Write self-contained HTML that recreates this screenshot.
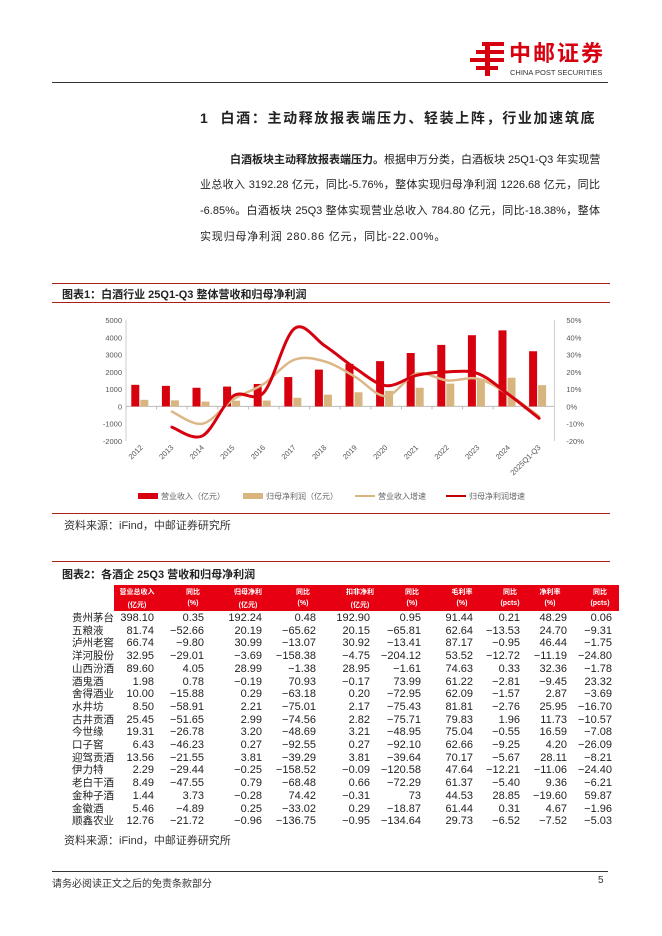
<!DOCTYPE html>
<html><head><meta charset="utf-8">
<style>
body{margin:0;background:#fff;}
#page{position:relative;width:662px;height:936px;overflow:hidden;font-family:"Liberation Sans","Noto Sans CJK SC",sans-serif;color:#222;}
.abs{position:absolute;white-space:nowrap;}
.p{position:absolute;left:200px;width:400px;font-size:11px;height:16px;line-height:16px;text-align:justify;text-align-last:justify;white-space:nowrap;}
.hdr{position:absolute;color:#fff;font-size:7px;font-weight:bold;transform:translateX(-50%);}
.cell{position:absolute;font-size:11px;text-align:right;transform:translateX(-100%);line-height:13px;}
.nm{position:absolute;left:72px;font-size:10.5px;line-height:13px;}
</style></head>
<body>
<div id="page">
  <svg class="abs" style="left:468px;top:40px" width="40" height="36">
    <rect x="14" y="2" width="22" height="4" fill="#d7000f"/>
    <rect x="8" y="10" width="28" height="4" fill="#d7000f"/>
    <rect x="2" y="18" width="34" height="4" fill="#d7000f"/>
    <rect x="8" y="26" width="22" height="4" fill="#d7000f"/>
    <rect x="17" y="2" width="5" height="34" fill="#d7000f"/>
  </svg>
  <div class="abs" style="left:509px;top:42px;font-size:22px;line-height:24px;font-weight:bold;color:#d7000f;letter-spacing:2px">中邮证券</div>
  <div class="abs" style="left:510px;top:68px;font-size:7.5px;line-height:9px;color:#333">CHINA POST SECURITIES</div>
  <div class="abs" style="left:52px;top:82px;width:556px;height:1px;background:#333"></div>

  <div class="abs" style="left:200px;top:108px;font-size:14px;font-weight:bold;letter-spacing:1.65px">1&nbsp; 白酒：主动释放报表端压力、轻装上阵，行业加速筑底</div>

  <div class="p" style="top:152px;left:230px;width:370px"><b>白酒板块主动释放报表端压力。</b>根据申万分类，白酒板块 25Q1-Q3 年实现营</div>
  <div class="p" style="top:177px">业总收入 3192.28 亿元，同比-5.76%，整体实现归母净利润 1226.68 亿元，同比</div>
  <div class="p" style="top:203px">-6.85%。白酒板块 25Q3 整体实现营业总收入 784.80 亿元，同比-18.38%，整体</div>
  <div class="p" style="top:229px;text-align-last:left;letter-spacing:0.8px">实现归母净利润 280.86 亿元，同比-22.00%。</div>

  <div class="abs" style="left:52px;top:283px;width:558px;height:1px;background:#a8201a"></div>
  <div class="abs" style="left:62px;top:286px;font-size:11px;font-weight:bold">图表1：白酒行业 25Q1-Q3 整体营收和归母净利润</div>
  <div class="abs" style="left:52px;top:302px;width:558px;height:1px;background:#a8201a"></div>

  <svg id="chart" class="abs" style="left:0;top:0" width="662" height="520"></svg>

  <div class="abs" style="left:52px;top:513px;width:558px;height:1px;background:#a8201a"></div>
  <div class="abs" style="left:64px;top:517px;font-size:11px;color:#333">资料来源：iFind，中邮证券研究所</div>

  <div class="abs" style="left:52px;top:561px;width:558px;height:1px;background:#a8201a"></div>
  <div class="abs" style="left:62px;top:566px;font-size:11px;font-weight:bold">图表2：各酒企 25Q3 营收和归母净利润</div>

  <div class="abs" style="left:114px;top:585px;width:505px;height:26px;background:#e60012"></div>
  <div id="tbl"></div>

  <div class="abs" style="left:64px;top:832px;font-size:11px;color:#333">资料来源：iFind，中邮证券研究所</div>
  <div class="abs" style="left:52px;top:871px;width:556px;height:1px;background:#333"></div>
  <div class="abs" style="left:52px;top:875px;font-size:10px;color:#333">请务必阅读正文之后的免责条款部分</div>
  <div class="abs" style="left:598px;top:875px;font-size:10px;color:#333">5</div>
</div>

<script>
const categories=["2012","2013","2014","2015","2016","2017","2018","2019","2020","2021","2022","2023","2024","2025Q1-Q3"];
const revenue=[1250,1190,1080,1150,1300,1700,2130,2460,2620,3090,3560,4120,4400,3192];
const profit=[380,350,280,330,340,500,680,820,900,1080,1320,1600,1660,1227];
const revenueGrowth=[null,-3,-10,4,13,27,26,17,6,19,15,16,7,-5.8];
const profitGrowth=[null,-12,-17,6,8,45,35,22,12,18,20,19,7,-6.85];
const leftTicks=[5000,4000,3000,2000,1000,0,-1000,-2000];
const rightTicks=[50,40,30,20,10,0,-10,-20];

const NS="http://www.w3.org/2000/svg";
const svg=document.getElementById('chart');
const X0=126,BW=30.6,YT=320,YB=441;
const xC=i=>X0+BW*(i+0.5);
const yL=v=>YT+(5000-v)/7000*(YB-YT);
const yR=v=>YT+(50-v)/70*(YB-YT);
function el(t,a){const e=document.createElementNS(NS,t);for(const k in a)e.setAttribute(k,a[k]);svg.appendChild(e);return e;}

const ax=el('line',{x1:X0,y1:yL(0),x2:X0+BW*14,y2:yL(0),stroke:'#bbb','stroke-width':1});

const la=el('line',{x1:X0,y1:YT,x2:X0,y2:YB,stroke:'#ccc','stroke-width':1});

const ra=el('line',{x1:X0+BW*14,y1:YT,x2:X0+BW*14,y2:YB,stroke:'#ccc','stroke-width':1});

leftTicks.forEach(v=>{
  const t=el('text',{x:X0-4,y:yL(v)+3,'text-anchor':'end','font-size':7.5,fill:'#555'});t.textContent=v;
  
});
rightTicks.forEach(v=>{
  const t=el('text',{x:X0+BW*14+12,y:yR(v)+3,'font-size':7.5,fill:'#555'});t.textContent=v+'%';
  
});
categories.forEach((c,i)=>{
  const tk=el('line',{x1:X0+BW*i,y1:yL(0),x2:X0+BW*i,y2:yL(0)+3,stroke:'#bbb'});
  
  const x=xC(i)+2,y=448;
  const t=el('text',{x:x,y:y,'text-anchor':'end','font-size':7.5,fill:'#555',transform:`rotate(-45 ${x} ${y})`});t.textContent=c;
  
  const r=el('rect',{x:xC(i)-10,y:yL(revenue[i]),width:8,height:yL(0)-yL(revenue[i]),fill:'#d7000f'});
  
  const p=el('rect',{x:xC(i)-1,y:yL(profit[i]),width:8,height:yL(0)-yL(profit[i]),fill:'#d8b47f'});
  
});
function smooth(vals,color,w,name){
  const pts=[];vals.forEach((v,i)=>{if(v!==null)pts.push([xC(i),yR(v)]);});
  let d=`M${pts[0][0]},${pts[0][1]}`;
  for(let i=0;i<pts.length-1;i++){
    const p0=pts[Math.max(0,i-1)],p1=pts[i],p2=pts[i+1],p3=pts[Math.min(pts.length-1,i+2)];
    const c1=[p1[0]+(p2[0]-p0[0])/6,p1[1]+(p2[1]-p0[1])/6];
    const c2=[p2[0]-(p3[0]-p1[0])/6,p2[1]-(p3[1]-p1[1])/6];
    d+=` C${c1[0]},${c1[1]} ${c2[0]},${c2[1]} ${p2[0]},${p2[1]}`;
  }
  const e=el('path',{d:d,fill:'none',stroke:color,'stroke-width':w,'stroke-linecap':'round'});
  
}
smooth(revenueGrowth,'#dcb888',2.5,'revenue-growth-line');
smooth(profitGrowth,'#d7000f',3,'profit-growth-line');

const leg=[['rect','#d7000f','营业收入（亿元）',138],['rect','#d8b47f','归母净利润（亿元）',243],['line','#d8b47f','营业收入增速',355],['line','#c00000','归母净利润增速',446]];
leg.forEach(l=>{
  const m=l[0]==='rect'?el('rect',{x:l[3],y:493,width:20,height:6,fill:l[1]}):el('rect',{x:l[3],y:495,width:20,height:2,fill:l[1]});
  
  const t=el('text',{x:l[3]+23,y:499,'font-size':8,fill:'#666'});t.textContent=l[2];
  
});

const headers1=["营业总收入","同比","归母净利","同比","扣非净利","同比","毛利率","同比","净利率","同比"];
const headers2=["(亿元)","(%)","(亿元)","(%)","(亿元)","(%)","(%)","(pcts)","(%)","(pcts)"];
const companies=["贵州茅台","五粮液","泸州老窖","洋河股份","山西汾酒","酒鬼酒","舍得酒业","水井坊","古井贡酒","今世缘","口子窖","迎驾贡酒","伊力特","老白干酒","金种子酒","金徽酒","顺鑫农业"];
const rows=[
["398.10","0.35","192.24","0.48","192.90","0.95","91.44","0.21","48.29","0.06"],
["81.74","-52.66","20.19","-65.62","20.15","-65.81","62.64","-13.53","24.70","-9.31"],
["66.74","-9.80","30.99","-13.07","30.92","-13.41","87.17","-0.95","46.44","-1.75"],
["32.95","-29.01","-3.69","-158.38","-4.75","-204.12","53.52","-12.72","-11.19","-24.80"],
["89.60","4.05","28.99","-1.38","28.95","-1.61","74.63","0.33","32.36","-1.78"],
["1.98","0.78","-0.19","70.93","-0.17","73.99","61.22","-2.81","-9.45","23.32"],
["10.00","-15.88","0.29","-63.18","0.20","-72.95","62.09","-1.57","2.87","-3.69"],
["8.50","-58.91","2.21","-75.01","2.17","-75.43","81.81","-2.76","25.95","-16.70"],
["25.45","-51.65","2.99","-74.56","2.82","-75.71","79.83","1.96","11.73","-10.57"],
["19.31","-26.78","3.20","-48.69","3.21","-48.95","75.04","-0.55","16.59","-7.08"],
["6.43","-46.23","0.27","-92.55","0.27","-92.10","62.66","-9.25","4.20","-26.09"],
["13.56","-21.55","3.81","-39.29","3.81","-39.64","70.17","-5.67","28.11","-8.21"],
["2.29","-29.44","-0.25","-158.52","-0.09","-120.58","47.64","-12.21","-11.06","-24.40"],
["8.49","-47.55","0.79","-68.48","0.66","-72.29","61.37","-5.40","9.36","-6.21"],
["1.44","3.73","-0.28","74.42","-0.31","73","44.53","28.85","-19.60","59.87"],
["5.46","-4.89","0.25","-33.02","0.29","-18.87","61.44","0.31","4.67","-1.96"],
["12.76","-21.72","-0.96","-136.75","-0.95","-134.64","29.73","-6.52","-7.52","-5.03"]];
const hc=[137,193,248,303,360,412,462,510,550,600];
const re=[154,204,262,316,370,421,473,520,567,612];
const page=document.getElementById('page');
function div(cls,txt,l,t,name){const d=document.createElement('div');d.className=cls;d.textContent=txt;d.style.left=l+'px';d.style.top=t+'px';


page.appendChild(d);return d;}
headers1.forEach((h,i)=>{div('hdr',h,hc[i],587,'column-header');div('hdr',headers2[i],hc[i],600,'column-unit');});
companies.forEach((c,r)=>{
  const y=612+r*12.7;
  div('nm',c,72,y,'company-name');
  rows[r].forEach((v,i)=>div('cell',v.replace('-','−'),re[i],y,'table-cell'));
});
</script>
</body></html>
